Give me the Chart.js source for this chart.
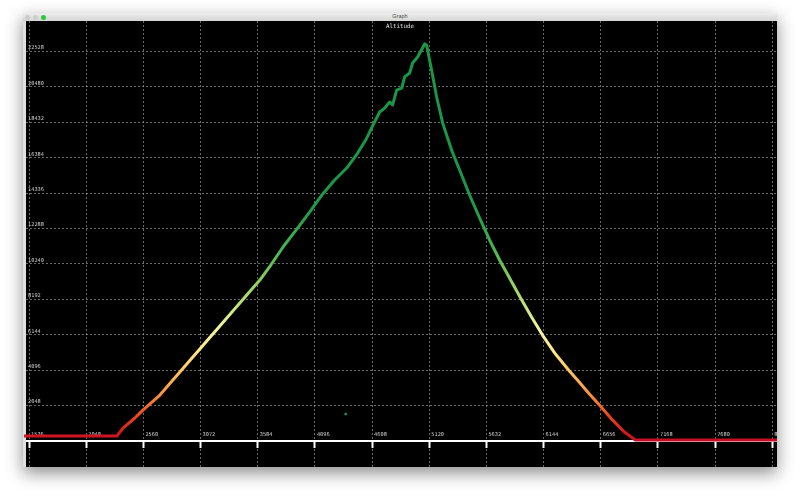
<!DOCTYPE html>
<html>
<head>
<meta charset="utf-8">
<title>Graph</title>
<script src="https://cdn.jsdelivr.net/npm/chart.js@4"></script>
<style>
  html, body { margin: 0; padding: 0; background: #fff; }
  body { width: 800px; height: 500px; position: relative; overflow: hidden; }
  .win { position: absolute; left: 23px; top: 13px; width: 754px; height: 454px; background: #000;
         box-shadow: 0 6px 16px rgba(0,0,0,0.45); }
  .bar { position: relative; height: 8px; background: linear-gradient(#ededed, #d5d5d5); }
  .dot { position: absolute; top: 1.8px; width: 5px; height: 5px; border-radius: 50%; background: #cdcdcd; }
  .bar .t { position: absolute; left: 0; right: 0; top: 0; text-align: center; line-height: 8px;
            font: 5.5px "Liberation Sans", sans-serif; color: #4a4a4a; }
  .ttl { position: absolute; left: 0; right: 0; top: 10px; text-align: center; line-height: 6px;
         font: 5.8px "DejaVu Sans Mono", monospace; color: #e0e0e0; pointer-events: none; }
  #chart { display: block; }
</style>
</head>
<body>
<div class="win">
  <div class="bar">
    <span class="dot" style="left:2.2px"></span>
    <span class="dot" style="left:10.2px"></span>
    <span class="dot" style="left:18.2px;background:#2bc840"></span>
    <div class="t">Graph</div>
  </div>
  <canvas id="chart" width="754" height="446"></canvas>
  <div class="ttl">Altitude</div>
</div>
<script>
// altitude profile
const distance = [1491, 2323, 2377, 2484, 2556, 2708, 2797, 2887, 2976, 3066,
  3155, 3245, 3334, 3424, 3513, 3603, 3701, 3817, 3934, 4050,
  4166, 4273, 4381, 4479, 4551, 4604, 4676, 4721, 4766, 4792,
  4828, 4873, 4900, 4944, 4971, 5016, 5079, 5096, 5141, 5186,
  5240, 5320, 5392, 5481, 5571, 5660, 5750, 5839, 5938, 6036,
  6134, 6250, 6375, 6447, 6554, 6644, 6760, 6867, 6966, 8234];
const altitude = [290, 290, 750, 1330, 1790, 2660, 3330, 3990, 4660, 5320,
  5990, 6650, 7320, 7980, 8650, 9310, 10180, 11280, 12260, 13250,
  14290, 15100, 15790, 16660, 17410, 18110, 19030, 19260, 19610, 19440,
  20300, 20420, 21060, 21290, 21870, 22210, 22970, 22910, 21460, 19900,
  18400, 16830, 15680, 14230, 12900, 11630, 10470, 9430, 8270, 7170,
  6130, 5030, 4050, 3530, 2720, 2080, 1220, 520, 60, 60];

// the single stray green point
const strayX = [4372];
const strayY = [1560];

const xTicks = [1536, 2048, 2560, 3072, 3584, 4096, 4608, 5120, 5632, 6144, 6656, 7168, 7680, 8192];
const yTicks = [2048, 4096, 6144, 8192, 10240, 12288, 14336, 16384, 18432, 20480, 22528];

// colour ramp by altitude (red -> yellow -> green)
const rampAt = [0, 600, 1500, 2600, 4000, 5200, 6500, 8000, 9300, 11000, 13000, 15000];
const rampColor = ['#c40c25', '#d81e1e', '#ec4a22', '#f88e3c', '#fdc260', '#fde88a',
  '#f4f5a0', '#b9e07a', '#8bcf5d', '#4db552', '#23a049', '#1a9647'];

function altitudeGradient(context) {
  const chart = context.chart;
  const area = chart.chartArea;
  if (!area) return rampColor[0];
  const y = chart.scales.y;
  const lo = rampAt[0], hi = rampAt[rampAt.length - 1];
  const g = chart.ctx.createLinearGradient(0, y.getPixelForValue(lo), 0, y.getPixelForValue(hi));
  rampAt.forEach((v, i) => g.addColorStop((v - lo) / (hi - lo), rampColor[i]));
  return g;
}

const points = distance.map((d, i) => ({ x: d, y: altitude[i] }));
const stray = strayX.map((d, i) => ({ x: d, y: strayY[i] }));

const labelFont = { family: 'DejaVu Sans Mono', size: 5.3 };

new Chart(document.getElementById('chart'), {
  type: 'line',
  data: {
    datasets: [
      {
        data: points,
        borderColor: altitudeGradient,
        borderWidth: 3,
        borderJoinStyle: 'round',
        borderCapStyle: 'round',
        pointRadius: 0,
        tension: 0
      },
      {
        type: 'scatter',
        data: stray,
        pointRadius: 1.4,
        pointBackgroundColor: '#1a9a4a',
        pointBorderWidth: 0
      }
    ]
  },
  options: {
    responsive: false,
    animation: false,
    devicePixelRatio: 1,
    layout: { autoPadding: false, padding: { left: 1, right: 0, top: 0, bottom: 0 } },
    plugins: { legend: { display: false }, tooltip: { enabled: false }, title: { display: false } },
    scales: {
      x: {
        type: 'linear',
        min: 1491,
        max: 8234,
        position: { y: 0 },
        afterBuildTicks: s => { s.ticks = xTicks.map(v => ({ value: v })); },
        afterFit: s => { s.paddingLeft = 0; s.paddingRight = 0; },
        grid: { color: 'rgba(150,150,150,0.7)', lineWidth: 1, tickColor: '#ffffff', tickWidth: 2, tickLength: 6 },
        border: { color: '#ffffff', width: 2, dash: [2, 2] },
        ticks: {
          autoSkip: false,
          maxRotation: 0,
          align: 'start',
          labelOffset: 2,
          padding: -16,
          color: '#d0d0d0',
          font: labelFont,
          callback: v => String(v)
        }
      },
      y: {
        type: 'linear',
        min: -1504,
        max: 24297,
        position: 'left',
        afterBuildTicks: s => { s.ticks = yTicks.map(v => ({ value: v })); },
        afterFit: s => { s.width = 0; s.paddingTop = 0; s.paddingBottom = 0; },
        grid: { color: 'rgba(150,150,150,0.7)', lineWidth: 1, drawTicks: false },
        border: { color: '#e0e0e0', width: 3, dash: [2, 2] },
        ticks: {
          mirror: true,
          padding: 4,
          labelOffset: -3.5,
          color: '#d0d0d0',
          font: labelFont,
          callback: v => String(v)
        }
      }
    }
  }
});
</script>
</body>
</html>
